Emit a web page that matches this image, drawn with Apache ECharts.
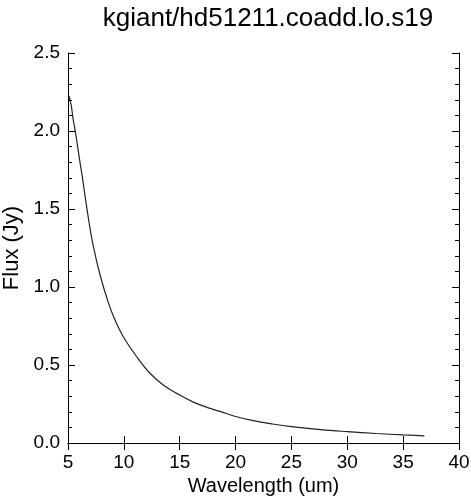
<!DOCTYPE html>
<html>
<head>
<meta charset="utf-8">
<script src="https://cdn.jsdelivr.net/npm/echarts@6/dist/echarts.min.js"></script>
<style>
html,body{margin:0;padding:0;background:#fff;}
#chart{width:471px;height:500px;}
</style>
</head>
<body>
<div id="chart"></div>
<script>
var wavelength = [5.06, 5.12, 5.2, 5.3, 5.45, 5.65, 6.05, 6.25, 6.85, 7.27, 7.86, 8.61, 9.21, 9.95, 11.15, 12.34, 13.53, 14.73, 16.22, 17.71, 18.6, 20.0, 21.6, 23.3, 25.0, 27.6, 30.0, 32.6, 35.0, 36.9];
var flux = [2.20, 2.22, 2.19, 2.16, 2.08, 2.00, 1.81, 1.72, 1.43, 1.26, 1.08, 0.90, 0.788, 0.681, 0.553, 0.447, 0.372, 0.318, 0.262, 0.222, 0.203, 0.170, 0.143, 0.122, 0.105, 0.086, 0.073, 0.061, 0.052, 0.046];
var xTicks = [5, 10, 15, 20, 25, 30, 35, 40];
var yTicks = [0.0, 0.5, 1.0, 1.5, 2.0, 2.5];

var points = wavelength.map(function (w, i) { return [w, flux[i]]; });
var font = 'Liberation Sans, Arial, Helvetica, sans-serif';
var lineStyle = { color: '#000', width: 1 };

function xAx(pos, showLabel) {
  return {
    type: 'value', position: pos, min: xTicks[0], max: xTicks[xTicks.length - 1], interval: 5,
    name: showLabel ? 'Wavelength (um)' : '', nameLocation: 'middle', nameGap: 33,
    nameTextStyle: { fontFamily: font, fontSize: 20, color: '#000' },
    axisLine: { show: true, lineStyle: lineStyle },
    axisTick: { show: true, inside: true, length: 7, lineStyle: lineStyle },
    axisLabel: { show: showLabel, fontFamily: font, fontSize: 19, color: '#000', margin: 10 },
    splitLine: { show: false }
  };
}
function yAx(pos, showLabel) {
  return {
    type: 'value', position: pos, min: yTicks[0], max: yTicks[yTicks.length - 1], interval: 0.5,
    name: showLabel ? 'Flux (Jy)' : '', nameLocation: 'middle', nameGap: 44, nameRotate: 90,
    nameTextStyle: { fontFamily: font, fontSize: 22, color: '#000' },
    axisLine: { show: true, lineStyle: lineStyle },
    axisTick: { show: true, inside: true, length: 7, lineStyle: lineStyle },
    minorTick: { show: true, splitNumber: 5, length: 4, lineStyle: lineStyle },
    axisLabel: { show: showLabel, fontFamily: font, fontSize: 19, color: '#000', margin: 8,
      formatter: function (v) { return v.toFixed(1); } },
    splitLine: { show: false }
  };
}

var chart = echarts.init(document.getElementById('chart'), null, { renderer: 'canvas' });
chart.setOption({
  animation: false,
  backgroundColor: '#fff',
  title: {
    text: 'kgiant/hd51211.coadd.lo.s19', left: 263, top: 1, textAlign: 'center',
    textStyle: { fontFamily: font, fontSize: 26, fontWeight: 'normal', color: '#000' }
  },
  grid: { left: 68, right: 12, top: 53, bottom: 57, containLabel: false, outerBoundsMode: 'none' },
  xAxis: [xAx('bottom', true), xAx('top', false)],
  yAxis: [yAx('left', true), yAx('right', false)],
  series: [{
    type: 'line', data: points, showSymbol: false, smooth: 0.4,
    lineStyle: { color: '#222', width: 1.2 }
  }]
});
</script>
</body>
</html>
